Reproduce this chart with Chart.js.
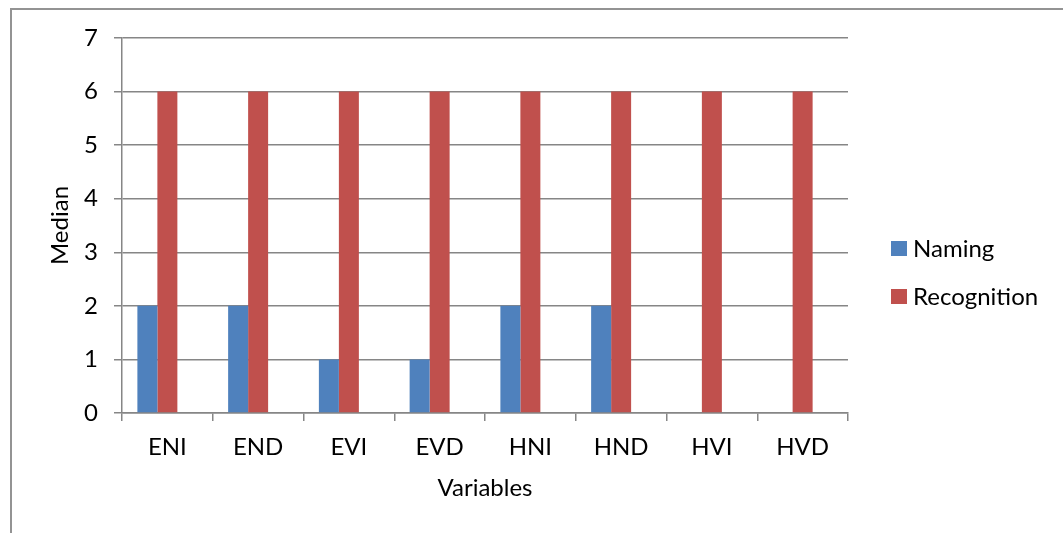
<!DOCTYPE html>
<html>
<head>
<meta charset="utf-8">
<title>Median by variable</title>
<script src="https://cdn.jsdelivr.net/npm/chart.js@4/dist/chart.umd.min.js"></script>
<style>
    html, body { margin: 0; padding: 0; background: #fff; overflow: hidden; }
    #wrap { position: relative; width: 1063px; height: 533px; font-family: Lato, sans-serif; }
    #frame {
        position: absolute; left: 10px; top: 8px; width: 1100px; height: 600px;
        border-left: 2px solid #939393; border-top: 2px solid #939393;
    }
    #medianChart { position: absolute; left: 0; top: 0; }
    .legend-item { position: absolute; left: 891px; height: 16px; font-size: 24px; color: #000; }
    .legend-item .box { position: absolute; left: 0; top: 0; width: 16px; height: 15px; }
    .legend-item span.txt { position: absolute; left: 22px; top: -8px; white-space: nowrap; line-height: 30px; }
</style>
</head>
<body>
<div id="wrap">
    <div id="frame"></div>
    <canvas id="medianChart" width="1063" height="533"></canvas>
    <div id="legend"></div>
</div>
<script>
// Values
const variables = ['ENI', 'END', 'EVI', 'EVD', 'HNI', 'HND', 'HVI', 'HVD'];
const namingMedian = [2, 2, 1, 1, 2, 2, 0, 0];
const recognitionMedian = [6, 6, 6, 6, 6, 6, 6, 6];
// third (empty) series slot that Excel reserved next to each pair
const emptySeries = [null, null, null, null, null, null, null, null];
const yTicks = [0, 1, 2, 3, 4, 5, 6, 7];

const BLUE = '#4F81BD';
const RED = '#C0504D';
const GRID = '#868686';
const FONT = { family: 'Lato, sans-serif', size: 24 };

const ctx = document.getElementById('medianChart').getContext('2d');

const medianChart = new Chart(ctx, {
    type: 'bar',
    data: {
        labels: variables,
        datasets: [
            { label: 'Naming', data: namingMedian, backgroundColor: BLUE },
            { label: 'Recognition', data: recognitionMedian, backgroundColor: RED },
            { label: '', data: emptySeries, backgroundColor: 'rgba(0,0,0,0)' }
        ]
    },
    options: {
        responsive: false,
        animation: false,
        layout: {
            padding: { top: 38, right: 215, left: 0, bottom: 0 }
        },
        datasets: {
            bar: {
                categoryPercentage: 0.661,
                barPercentage: 1
            }
        },
        plugins: {
            legend: { display: false },
            tooltip: { enabled: false }
        },
        scales: {
            x: {
                grid: {
                    display: true,
                    drawOnChartArea: false,
                    drawTicks: true,
                    tickLength: 8,
                    color: GRID,
                    lineWidth: 1.5,
                    offset: true
                },
                border: { color: GRID, width: 1.5 },
                ticks: { font: FONT, color: '#000', padding: 12 },
                title: {
                    display: true,
                    text: 'Variables',
                    font: FONT,
                    color: '#000',
                    padding: { top: 0, bottom: 30 }
                },
                afterFit: (scale) => { scale.height = 120; }
            },
            y: {
                min: 0,
                max: 7,
                afterBuildTicks: (scale) => {
                    scale.ticks = yTicks.map(v => ({ value: v }));
                },
                grid: {
                    color: GRID,
                    lineWidth: 1.5,
                    tickLength: 8
                },
                border: { color: GRID, width: 1.5 },
                ticks: { font: FONT, color: '#000', padding: 16 },
                title: {
                    display: true,
                    text: 'Median',
                    font: FONT,
                    color: '#000',
                    padding: { top: 46, bottom: 0 }
                },
                afterFit: (scale) => { scale.width = 122; }
            }
        }
    }
});

// Legend drawn as html next to the plot
const legendEl = document.getElementById('legend');
const legendRows = [
    { text: 'Naming', color: BLUE, top: 241 },
    { text: 'Recognition', color: RED, top: 289 }
];
legendRows.forEach(row => {
    const item = document.createElement('div');
    item.className = 'legend-item';
    item.style.top = row.top + 'px';
    item.innerHTML = '<div class="box" style="background:' + row.color + '"></div><span class="txt">' + row.text + '</span>';
    legendEl.appendChild(item);
});
</script>
</body>
</html>
